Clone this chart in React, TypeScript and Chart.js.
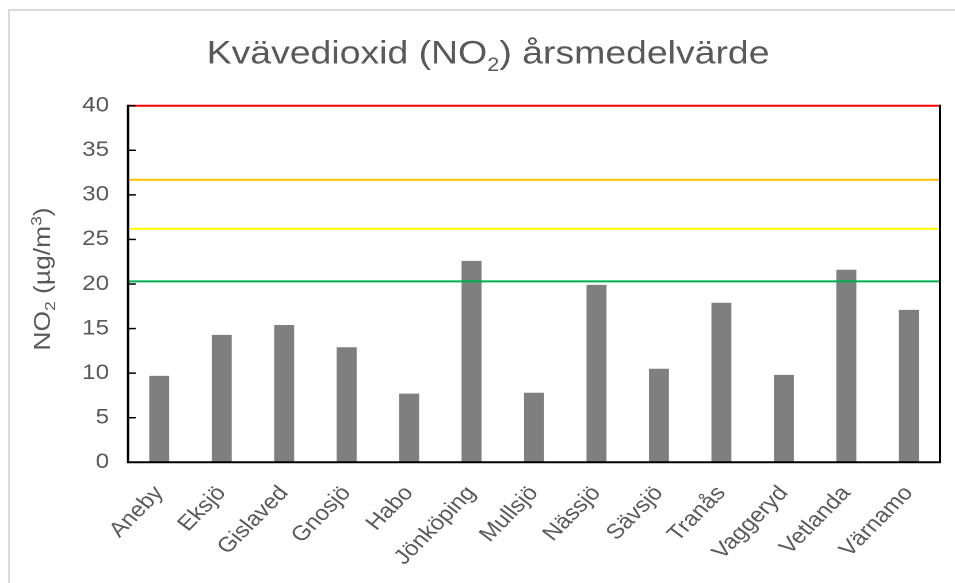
import React, { useEffect, useRef } from 'react';
import { Chart, registerables } from 'chart.js';

Chart.register(...registerables);

// ---- data ----
const categories = ['Aneby', 'Eksjö', 'Gislaved', 'Gnosjö', 'Habo', 'Jönköping', 'Mullsjö', 'Nässjö', 'Sävsjö', 'Tranås', 'Vaggeryd', 'Vetlanda', 'Värnamo'];
const no2Values = [9.7, 14.3, 15.4, 12.9, 7.7, 22.6, 7.8, 19.9, 10.5, 17.9, 9.8, 21.6, 17.1];
const yTickValues = [0, 5, 10, 15, 20, 25, 30, 35, 40];
const thresholdValues = [40, 31.7, 26.2, 20.3];

// ---- styles ----
const thresholdColors = ['#ff0000', '#ffc000', '#ffff00', '#00b050'];
const TEXT = '#595959';
const FONT = '"Liberation Sans", Arial, sans-serif';
const LOGICAL_W = 830;
const H = 583;
const SX = 955 / LOGICAL_W;

type Part = { t: string; size: number; dy: number };

function drawParts(ctx: CanvasRenderingContext2D, parts: Part[], startX: number) {
  let x = startX;
  for (const p of parts) {
    ctx.font = `${p.size}px ${FONT}`;
    ctx.fillText(p.t, x, p.dy);
    x += ctx.measureText(p.t).width;
  }
}
function partsWidth(ctx: CanvasRenderingContext2D, parts: Part[]) {
  let w = 0;
  for (const p of parts) {
    ctx.font = `${p.size}px ${FONT}`;
    w += ctx.measureText(p.t).width;
  }
  return w;
}

const titleParts: Part[] = [
  { t: 'Kvävedioxid (NO', size: 32.5, dy: 0 },
  { t: '2', size: 19, dy: 7.5 },
  { t: ') årsmedelvärde', size: 32.5, dy: 0 },
];
const yTitleParts: Part[] = [
  { t: 'NO', size: 23, dy: 0 },
  { t: '2', size: 15, dy: 5 },
  { t: ' (µg/m', size: 23, dy: 0 },
  { t: '3', size: 15, dy: -8.5 },
  { t: ')', size: 23, dy: 0 },
];

const customPlugin = {
  id: 'customDraw',
  afterDatasetsDraw(chart: any) {
    const { ctx, chartArea: a } = chart;
    const y = chart.scales.y;
    ctx.save();
    thresholdValues.forEach((v, i) => {
      const py = y.getPixelForValue(v);
      ctx.strokeStyle = thresholdColors[i];
      ctx.lineWidth = 2;
      ctx.beginPath();
      ctx.moveTo(a.left, py);
      ctx.lineTo(a.right, py);
      ctx.stroke();
    });
    ctx.strokeStyle = '#000000';
    ctx.lineWidth = 2;
    ctx.beginPath();
    ctx.moveTo(a.left, a.top - 1);
    ctx.lineTo(a.left, a.bottom);
    ctx.lineTo(a.right, a.bottom);
    ctx.lineTo(a.right, a.top - 1);
    ctx.stroke();
    ctx.lineWidth = 1.5;
    yTickValues.forEach((v) => {
      const py = y.getPixelForValue(v);
      ctx.beginPath();
      ctx.moveTo(a.left, py);
      ctx.lineTo(a.left + 6.7, py);
      ctx.stroke();
    });
    ctx.restore();
  },
  afterDraw(chart: any) {
    const { ctx } = chart;
    ctx.save();
    ctx.fillStyle = TEXT;
    ctx.textBaseline = 'alphabetic';
    ctx.textAlign = 'left';
    ctx.save();
    ctx.translate(424.2, 63.5);
    const tw = partsWidth(ctx, titleParts);
    drawParts(ctx, titleParts, -tw / 2);
    ctx.restore();
    ctx.save();
    ctx.translate(43.5, 279);
    ctx.rotate(-Math.PI / 2);
    ctx.scale(SX, 1 / SX);
    const yw = partsWidth(ctx, yTitleParts);
    drawParts(ctx, yTitleParts, -yw / 2);
    ctx.restore();
    ctx.restore();
  },
};

export default function App() {
  const ref = useRef<HTMLCanvasElement>(null);
  useEffect(() => {
    if (!ref.current) return;
    Chart.defaults.font.family = FONT;
    const chart = new Chart(ref.current, {
      type: 'bar',
      data: {
        labels: categories,
        datasets: [
          {
            data: no2Values,
            backgroundColor: '#7f7f7f',
            borderWidth: 0,
            barPercentage: 0.32,
            categoryPercentage: 1,
          },
        ],
      },
      options: {
        animation: false,
        responsive: false,
        devicePixelRatio: 2,
        layout: { padding: { left: 0, top: 105.7, right: 13, bottom: 0 } },
        plugins: {
          legend: { display: false },
          title: { display: false },
          tooltip: { enabled: false },
        },
        scales: {
          x: {
            type: 'category',
            grid: { display: false, drawTicks: false },
            border: { display: false },
            ticks: {
              autoSkip: false,
              maxRotation: 49,
              minRotation: 49,
              padding: 19,
              labelOffset: 0,
              color: TEXT,
              font: { size: 21, family: FONT },
            },
            afterFit: (s: any) => {
              s.height = H - 462.3;
            },
          },
          y: {
            min: 0,
            max: 40,
            grid: { display: false, drawTicks: false },
            border: { display: false },
            afterBuildTicks: (s: any) => {
              s.ticks = yTickValues.map((v) => ({ value: v }));
            },
            ticks: {
              padding: 16.5,
              color: TEXT,
              font: { size: 21, family: FONT },
            },
            afterFit: (s: any) => {
              s.width = 111.25;
            },
          },
        },
      },
      plugins: [customPlugin],
    });
    return () => chart.destroy();
  }, []);

  return (
    <div style={{ position: 'fixed', left: 0, top: 0, width: 955, height: 583, overflow: 'hidden', background: '#ffffff' }}>
      <div
        style={{
          position: 'absolute',
          left: 8,
          top: 9,
          width: 2000,
          height: 2000,
          border: '2px solid #d9d9d9',
          boxSizing: 'border-box',
        }}
      />
      <div
        style={{
          position: 'absolute',
          left: 0,
          top: 0,
          width: LOGICAL_W,
          height: H,
          transform: `scaleX(${SX})`,
          transformOrigin: '0 0',
        }}
      >
        <canvas ref={ref} width={LOGICAL_W} height={H} style={{ display: 'block' }} />
      </div>
    </div>
  );
}
